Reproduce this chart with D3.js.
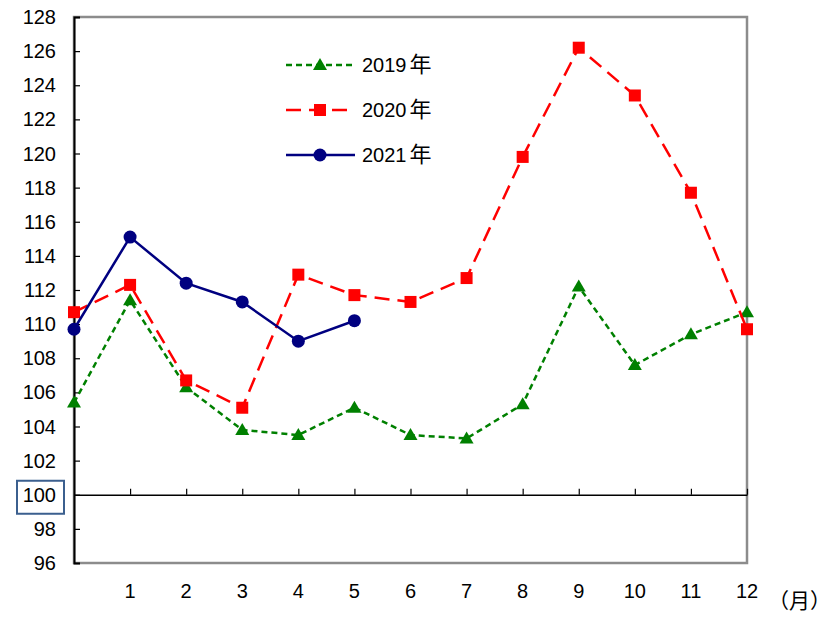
<!DOCTYPE html>
<html>
<head>
<meta charset="utf-8">
<script src="https://cdn.jsdelivr.net/npm/d3@7"></script>
<style>
  body { margin: 0; background: #fff; }
  text { font-family: "Liberation Sans", "Noto Sans CJK JP", sans-serif; fill: #000; }
</style>
</head>
<body>
<div id="chart"></div>
<script>
// chart size
let FRAME_WIDTH = 830;
let FRAME_HEIGHT = 617;
let MARGINS = {left: 74, right: 83, top: 17, bottom: 54};

// data
const MONTHS = [0, 1, 2, 3, 4, 5, 6, 7, 8, 9, 10, 11, 12];
const X_TICKS = [1, 2, 3, 4, 5, 6, 7, 8, 9, 10, 11, 12];
const Y_TICKS = [96, 98, 100, 102, 104, 106, 108, 110, 112, 114, 116, 118, 120, 122, 124, 126, 128];
const SERIES_YEARS = ["2019", "2020", "2021"];
const V2019 = [105.4, 111.4, 106.3, 103.8, 103.5, 105.1, 103.5, 103.3, 105.3, 112.2, 107.6, 109.4, 110.7];
const V2020 = [110.7, 112.3, 106.7, 105.1, 112.9, 111.7, 111.3, 112.7, 119.8, 126.2, 123.4, 117.7, 109.7];
const V2021 = [109.7, 115.1, 112.4, 111.3, 109.0, 110.2];

const STYLES = [
  {color: "#008000", dash: "6,4", marker: "triangle"},
  {color: "#ff0000", dash: "15,8", marker: "square"},
  {color: "#000080", dash: null, marker: "circle"}
];

let PLOT_WIDTH = FRAME_WIDTH - MARGINS.left - MARGINS.right;
let PLOT_HEIGHT = FRAME_HEIGHT - MARGINS.top - MARGINS.bottom;

const svg = d3.select("#chart").append("svg")
  .attr("width", FRAME_WIDTH)
  .attr("height", FRAME_HEIGHT);

const X_SCALE = d3.scaleLinear().domain([0, 12]).range([MARGINS.left, MARGINS.left + PLOT_WIDTH]);
const Y_SCALE = d3.scaleLinear().domain([96, 128]).range([MARGINS.top + PLOT_HEIGHT, MARGINS.top]);

// frame: gray top / right / bottom, black left
svg.append("rect")
  .attr("x", X_SCALE(0)).attr("y", Y_SCALE(128))
  .attr("width", X_SCALE(12) - X_SCALE(0))
  .attr("height", Y_SCALE(96) - Y_SCALE(128))
  .attr("fill", "none").attr("stroke", "#8c8c8c").attr("stroke-width", 2.5);

// left axis with inward ticks
let yAxis = svg.append("g")
  .attr("transform", "translate(" + X_SCALE(0) + ",0)")
  .call(d3.axisRight(Y_SCALE).tickValues(Y_TICKS).tickSize(6).tickFormat(""));
yAxis.select(".domain").attr("stroke", "#000").attr("stroke-width", 2);
yAxis.selectAll(".tick line").attr("stroke", "#000").attr("stroke-width", 1.2);

// y labels
svg.selectAll(".ylab")
  .data(Y_TICKS)
  .enter()
  .append("text")
  .attr("class", "ylab")
  .attr("x", 56)
  .attr("y", (d) => Y_SCALE(d) + 7)
  .attr("text-anchor", "end")
  .attr("font-size", "20px")
  .text((d) => d);

// box around 100
svg.append("rect")
  .attr("x", 17).attr("y", Y_SCALE(100) - 14)
  .attr("width", 47).attr("height", 33)
  .attr("fill", "none").attr("stroke", "#3b5f8e").attr("stroke-width", 2);

// baseline at 100 with upward ticks
let xAxis = svg.append("g")
  .attr("transform", "translate(0," + Y_SCALE(100) + ")")
  .call(d3.axisTop(X_SCALE).tickValues(X_TICKS).tickSize(6).tickSizeOuter(0).tickFormat(""));
xAxis.select(".domain").attr("stroke", "#000").attr("stroke-width", 1.5);
xAxis.selectAll(".tick line").attr("stroke", "#000").attr("stroke-width", 1.2);

// x labels
svg.selectAll(".xlab")
  .data(X_TICKS)
  .enter()
  .append("text")
  .attr("class", "xlab")
  .attr("x", (d) => X_SCALE(d))
  .attr("y", 598)
  .attr("text-anchor", "middle")
  .attr("font-size", "20px")
  .text((d) => d);

svg.append("text")
  .attr("x", 768).attr("y", 608)
  .attr("font-size", "21px")
  .text("（月）");

// lines and markers
const line = d3.line()
  .x((d, i) => X_SCALE(MONTHS[i]))
  .y((d) => Y_SCALE(d));

function drawMarker(g, type, x, y, color) {
  if (type == "triangle") {
    g.append("path")
      .attr("d", "M" + x + "," + (y - 7) + "L" + (x + 7) + "," + (y + 5) + "L" + (x - 7) + "," + (y + 5) + "Z")
      .attr("fill", color);
  } else if (type == "square") {
    g.append("rect")
      .attr("x", x - 6).attr("y", y - 6)
      .attr("width", 12).attr("height", 12)
      .attr("fill", color);
  } else {
    g.append("circle")
      .attr("cx", x).attr("cy", y).attr("r", 6.5)
      .attr("fill", color);
  }
}

[V2019, V2020, V2021].forEach((vals, k) => {
  let st = STYLES[k];
  let g = svg.append("g");
  g.append("path")
    .datum(vals)
    .attr("d", line)
    .attr("fill", "none")
    .attr("stroke", st.color)
    .attr("stroke-width", 2.5)
    .attr("stroke-dasharray", st.dash);
  vals.forEach((v, i) => drawMarker(g, st.marker, X_SCALE(MONTHS[i]), Y_SCALE(v), st.color));
});

// legend
const LEG_Y = [65, 110, 155];
SERIES_YEARS.forEach((name, k) => {
  let st = STYLES[k];
  let g = svg.append("g");
  g.append("line")
    .attr("x1", 286).attr("x2", 355)
    .attr("y1", LEG_Y[k]).attr("y2", LEG_Y[k])
    .attr("stroke", st.color)
    .attr("stroke-width", 2.5)
    .attr("stroke-dasharray", st.dash);
  drawMarker(g, st.marker, 320, LEG_Y[k], st.color);
  let t = g.append("text")
    .attr("x", 362).attr("y", LEG_Y[k] + 7)
    .attr("font-size", "20px");
  t.append("tspan").text(name);
  t.append("tspan").attr("dx", 3).attr("font-size", "22px").text("年");
});
</script>
</body>
</html>
